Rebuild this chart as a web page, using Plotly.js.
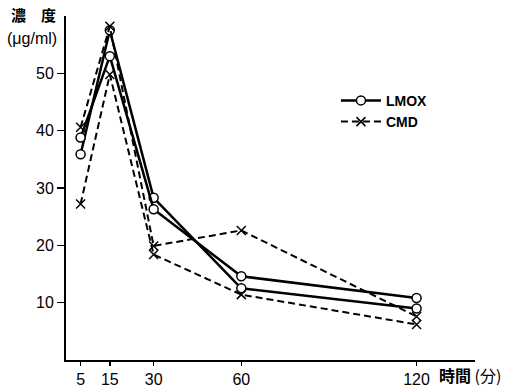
<!DOCTYPE html>
<html>
<head>
<meta charset="utf-8">
<script src="https://cdn.plot.ly/plotly-3.0.1.min.js"></script>
<style>html,body{margin:0;padding:0;background:#fff;}#chart{width:515px;height:389px;}</style>
</head>
<body>
<div id="chart"></div>
<script>
const times = [5, 15, 30, 60, 120];
const tickLabels = ['5', '15', '30', '60', '120'];
const lmoxA = [35.9, 57.5, 28.3, 12.5, 9.0];
const lmoxB = [38.8, 53.0, 26.3, 14.6, 10.8];
const cmdA = [40.6, 58.2, 19.9, 22.6, 7.6];
const cmdB = [27.2, 49.8, 18.4, 11.4, 6.2];

const solid = {color: '#000', width: 2.5};
const dashed = {color: '#000', width: 2, dash: '7px,4px'};
const circ = {symbol: 'circle', size: 9, color: '#fff', line: {color: '#000', width: 1.5}};
const cross = {symbol: 'x-thin-open', size: 9, color: '#000', line: {color: '#000', width: 1.5}};

const traces = [
  {x: times, y: lmoxA, mode: 'lines+markers', name: '<b>LMOX</b>', legendgroup: 'l', line: solid, marker: circ, showlegend: true},
  {x: times, y: lmoxB, mode: 'lines+markers', name: 'LMOX', legendgroup: 'l', line: solid, marker: circ, showlegend: false},
  {x: times, y: cmdA, mode: 'lines+markers', name: '<b>CMD</b>', legendgroup: 'c', line: dashed, marker: cross, showlegend: true},
  {x: times, y: cmdB, mode: 'lines+markers', name: 'CMD', legendgroup: 'c', line: dashed, marker: cross, showlegend: false}
];

const font = {family: 'Liberation Sans, Arial, sans-serif', size: 15, color: '#000'};
const cjk = 'Noto Sans CJK JP, sans-serif';

const layout = {
  width: 515, height: 389,
  margin: {l: 66, r: 40, t: 16, b: 29},
  paper_bgcolor: '#fff', plot_bgcolor: '#fff',
  font: font,
  showlegend: true,
  legend: {x: 0.66, y: 0.8, xanchor: 'left', yanchor: 'top', bgcolor: 'rgba(0,0,0,0)',
           font: {family: 'Liberation Sans, Arial, sans-serif', size: 14, color: '#000'},
           tracegroupgap: 0, itemwidth: 40},
  xaxis: {range: [0, 140], tickvals: times, ticktext: tickLabels, showgrid: false, zeroline: false,
          showline: true, linecolor: '#000', linewidth: 2, ticks: 'outside', ticklen: 4, tickwidth: 1.5,
          tickcolor: '#000', tickfont: {size: 16}},
  yaxis: {range: [0, 60], tickvals: [10, 20, 30, 40, 50], showgrid: false, zeroline: false,
          showline: true, linecolor: '#000', linewidth: 2, ticks: 'outside', ticklen: 7, tickwidth: 1.5,
          tickcolor: '#000', tickfont: {size: 16}},
  annotations: [
    {text: '<b>濃　度</b>', xref: 'paper', yref: 'paper', x: -0.14, y: 1.04, xanchor: 'left', yanchor: 'top',
     showarrow: false, font: {family: cjk, size: 15, color: '#000'}},
    {text: '(μg/ml)', xref: 'paper', yref: 'paper', x: -0.148, y: 0.935, xanchor: 'left', yanchor: 'middle',
     showarrow: false, font: {family: 'Liberation Sans, Arial, sans-serif', size: 16, color: '#000'}},
    {text: '<b>時間</b> (分)', xref: 'paper', yref: 'paper', x: 0.908, y: -0.045, xanchor: 'left', yanchor: 'middle',
     showarrow: false, font: {family: cjk, size: 16, color: '#000'}}
  ]
};

Plotly.newPlot('chart', traces, layout, {displayModeBar: false, staticPlot: true});
</script>
</body>
</html>
